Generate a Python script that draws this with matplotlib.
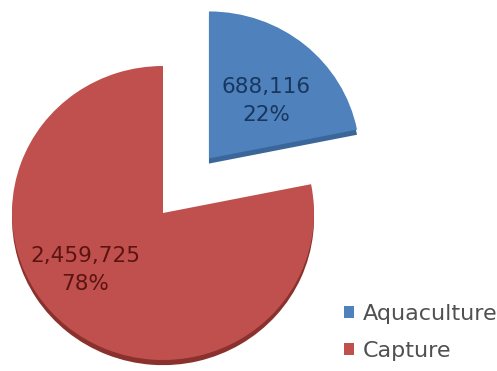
import matplotlib.pyplot as plt
from matplotlib.patches import Patch

plt.rcParams['font.family'] = ['DejaVu Sans']

# data
categories = ['Aquaculture', 'Capture']
values = [688116, 2459725]
colors = ['#4F81BD', '#C0504D']
side_colors = ['#3A6699', '#8A302D']
label_colors = ['#17375E', '#5C1412']

fig = plt.figure(figsize=(4.97, 3.71), dpi=100)
ax = fig.add_axes([0, 0, 1, 1])

total = sum(values)
explode = [0.48, 0]

# darker copy underneath for the thin 3d rim
ax.pie(values, colors=side_colors, startangle=90, counterclock=False,
       explode=explode, center=(0, -0.035), wedgeprops=dict(linewidth=0))
wedges, _ = ax.pie(values, colors=colors, startangle=90, counterclock=False,
                   explode=explode, wedgeprops=dict(linewidth=0))

ax.set_aspect('auto')
ax.set_xlim(-163 / 151, 334 / 151)
ax.set_ylim(-158 / 147, 213 / 147)
ax.axis('off')

label_pos = [(103 / 151, 112 / 147), (-78 / 151, -57 / 147)]
for v, c, (x, y) in zip(values, label_colors, label_pos):
    ax.text(x, y, f'{v:,}\n{v / total:.0%}', ha='center', va='center',
            color=c, fontsize=15.5, linespacing=1.55)

handles = [Patch(facecolor=c, edgecolor='none') for c in colors]
fig.legend(handles, categories, loc='upper left', bbox_to_anchor=(344 / 497, 67 / 371),
           frameon=False, fontsize=16, labelcolor='#505050',
           borderpad=0, borderaxespad=0,
           handlelength=0.45, handleheight=0.45, handletextpad=0.4,
           labelspacing=0.75)

fig.savefig('out.png', dpi=100, facecolor='white')
